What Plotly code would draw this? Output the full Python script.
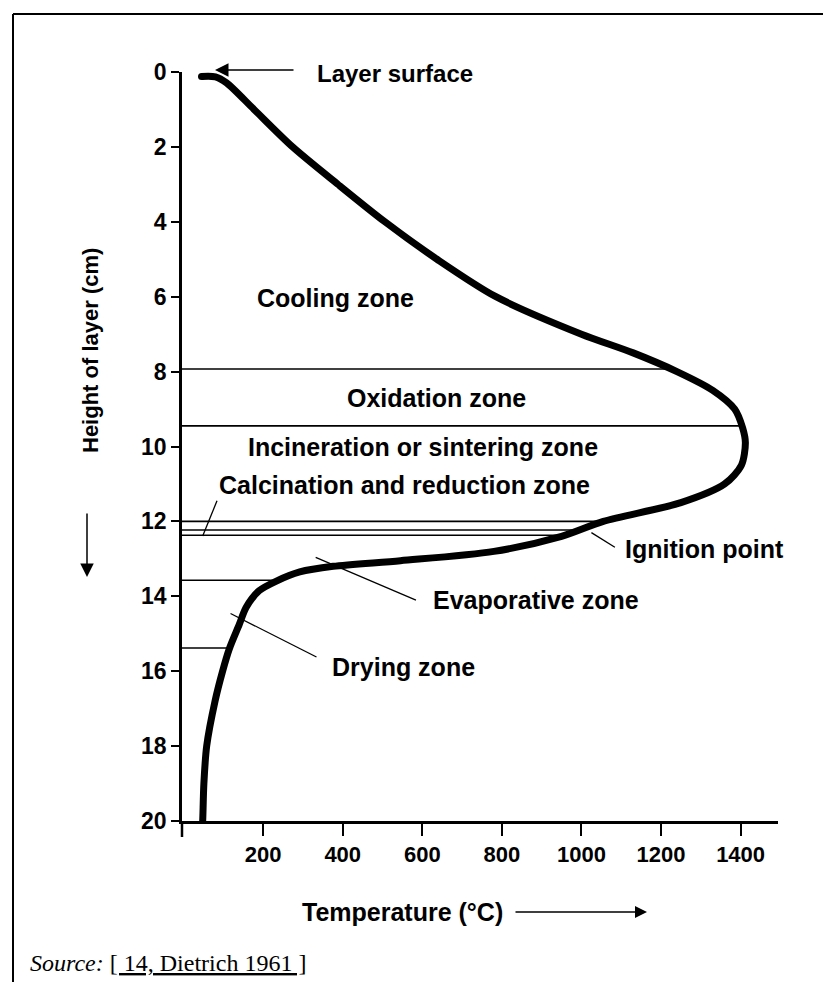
import plotly.graph_objects as go

# ---- data ----
depth_cm = [0.12, 0.13, 0.29, 1.0, 2.0, 3.0, 4.0, 5.0, 6.0, 7.0, 7.5, 8.0, 8.5, 9.0, 9.5, 9.9,
            10.5, 11.0, 11.5, 12.0, 12.4, 12.8, 13.05, 13.2, 13.35, 13.6, 13.85, 14.3, 14.75,
            15.4, 16.0, 16.8, 18.0, 19.0, 20.0, 20.15]
temp_c = [45, 80, 108, 177, 274, 388, 506, 637, 785, 1000, 1130, 1240, 1330, 1385, 1405, 1412,
          1402, 1360, 1250, 1055, 950, 780, 545, 376, 292, 232, 190, 157, 140,
          115, 98, 79, 58, 51, 48, 47]

zone_line_depths = [7.93, 9.45, 12.0, 12.23, 12.37, 13.57, 15.38]
zone_line_end_temps = [1240, 1402, 1052, 996, 958, 234, 112]

zone_labels = ["Cooling zone", "Oxidation zone", "Incineration or sintering zone",
               "Calcination and reduction zone", "Ignition point", "Evaporative zone", "Drying zone"]
label_temps = [381, 636, 601, 84, 1105, 623, 368]
label_depths = [6.03, 8.70, 10.0, 11.03, 12.75, 14.1, 15.88]
label_anchor = ["center", "center", "center", "left", "left", "left", "left"]

leader_t0 = [84, 1025, 332, 118]
leader_d0 = [11.45, 12.30, 12.96, 14.46]
leader_t1 = [48, 1084, 584, 334]
leader_d1 = [12.39, 12.69, 14.10, 15.62]

x_tick_vals = [200, 400, 600, 800, 1000, 1200, 1400]
y_tick_vals = [0, 2, 4, 6, 8, 10, 12, 14, 16, 18, 20]

# ---- layout geometry (body margin removed by post_script) ----
W, H = 823, 982
L, T = 182, 72
PW = 778 - 182
PH = 821 - 72
R = W - L - PW
B = H - T - PH


def px(xp):
    """page x pixel -> paper coordinate"""
    return (xp - L) / PW


def py(yp):
    """page y pixel -> paper coordinate"""
    return (T + PH - yp) / PH


SANS = "Liberation Sans, Arial, sans-serif"
SERIF = "Liberation Serif, Times New Roman, serif"

fig = go.Figure()

# zone boundary lines
for d, t in zip(zone_line_depths, zone_line_end_temps):
    fig.add_trace(go.Scatter(x=[-4, t], y=[d, d], mode="lines",
                             line=dict(color="black", width=1.6), hoverinfo="skip"))

# leader lines
for a, b, c, e in zip(leader_t0, leader_d0, leader_t1, leader_d1):
    fig.add_trace(go.Scatter(x=[a, c], y=[b, e], mode="lines",
                             line=dict(color="black", width=1.3), hoverinfo="skip"))

# temperature profile
fig.add_trace(go.Scatter(x=temp_c, y=depth_cm, mode="lines",
                         line=dict(color="black", width=7, shape="spline", smoothing=0.8),
                         cliponaxis=False, hoverinfo="skip"))
fig.add_trace(go.Scatter(x=[temp_c[0], temp_c[-1]], y=[depth_cm[0], depth_cm[-1]], mode="markers",
                         marker=dict(color="black", size=7), cliponaxis=False, hoverinfo="skip"))

annotations = []
for txt, tx, dy, anc in zip(zone_labels, label_temps, label_depths, label_anchor):
    annotations.append(dict(x=tx, y=dy, xref="x", yref="y", text="<b>%s</b>" % txt,
                            showarrow=False, xanchor=anc, yanchor="middle",
                            font=dict(family=SANS, size=25, color="black")))

# layer surface label + arrow
annotations.append(dict(x=px(315), y=py(73), xref="paper", yref="paper",
                        text="<b>Layer surface</b>", showarrow=False,
                        xanchor="left", yanchor="middle",
                        font=dict(family=SANS, size=24, color="black")))
annotations.append(dict(x=px(215), y=py(70), xref="paper", yref="paper", text="",
                        showarrow=True, ax=80, ay=0, arrowhead=2, arrowsize=1.8,
                        arrowwidth=1.5, arrowcolor="black", standoff=0))

# axis titles
annotations.append(dict(x=px(90), y=py(351), xref="paper", yref="paper",
                        text="<b>Height of layer (cm)</b>", textangle=-90, showarrow=False,
                        xanchor="center", yanchor="middle",
                        font=dict(family=SANS, size=22, color="black")))
annotations.append(dict(x=px(87), y=py(577), xref="paper", yref="paper", text="",
                        showarrow=True, ax=0, ay=-65, arrowhead=2, arrowsize=1.8,
                        arrowwidth=1.5, arrowcolor="black", standoff=0))
annotations.append(dict(x=px(300), y=py(912), xref="paper", yref="paper",
                        text="<b>Temperature (°C)</b>", showarrow=False,
                        xanchor="left", yanchor="middle",
                        font=dict(family=SANS, size=25, color="black")))
annotations.append(dict(x=px(647), y=py(912), xref="paper", yref="paper", text="",
                        showarrow=True, ax=-133, ay=0, arrowhead=2, arrowsize=1.6,
                        arrowwidth=1.5, arrowcolor="black", standoff=0))

# source
annotations.append(dict(x=px(28), y=py(963), xref="paper", yref="paper",
                        text="<i>Source:</i> <u>[ 14, Dietrich 1961 ]</u>", showarrow=False,
                        xanchor="left", yanchor="middle",
                        font=dict(family=SERIF, size=24, color="black")))

shapes = [
    # outer frame: top and left edges (right/bottom lie outside the picture)
    dict(type="line", xref="paper", yref="paper", x0=px(13), x1=px(830), y0=py(14), y1=py(14),
         line=dict(color="black", width=2)),
    dict(type="line", xref="paper", yref="paper", x0=px(13), x1=px(13), y0=py(14), y1=py(990),
         line=dict(color="black", width=2)),
    # y-axis extension below the x-axis
    dict(type="line", xref="paper", yref="paper", x0=0, x1=0, y0=0, y1=py(837),
         line=dict(color="black", width=2.5)),
]

fig.update_layout(
    width=W, height=H, autosize=False,
    margin=dict(l=L, r=R, t=T, b=B, pad=0),
    paper_bgcolor="white", plot_bgcolor="white",
    showlegend=False,
    annotations=annotations, shapes=shapes,
    xaxis=dict(range=[-4, 1494], showgrid=False, zeroline=False, showline=True,
               linecolor="black", linewidth=2.5, ticks="outside", ticklen=12, tickwidth=2,
               tickcolor="black", tickvals=x_tick_vals,
               ticktext=["<b>%d</b>" % v for v in x_tick_vals],
               tickfont=dict(family=SANS, size=22, color="black")),
    yaxis=dict(range=[20, 0], showgrid=False, zeroline=False, showline=True,
               linecolor="black", linewidth=2.5, ticks="outside", ticklen=8, tickwidth=2,
               tickcolor="black", tickvals=y_tick_vals,
               ticktext=["<b>%d</b>" % v for v in y_tick_vals],
               tickfont=dict(family=SANS, size=23, color="black")),
)

fig.write_html(
    "out.html",
    config={"displayModeBar": False},
    post_script="document.body.style.margin='0px';document.body.style.overflow='hidden';",
)
